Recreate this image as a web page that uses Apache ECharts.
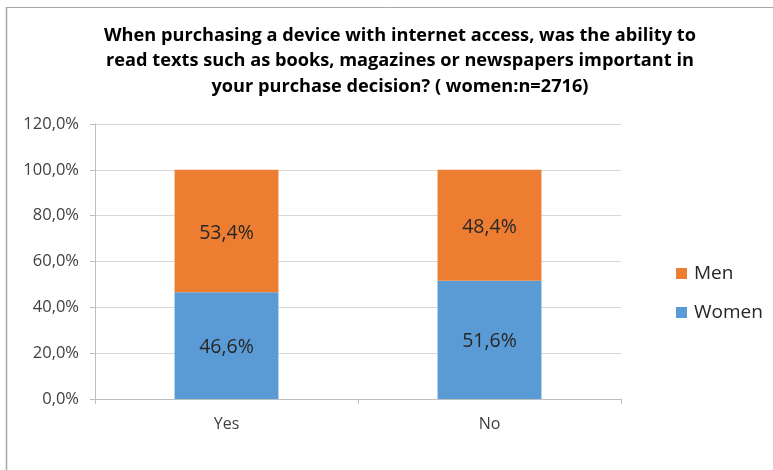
<!DOCTYPE html>
<html>
<head>
<meta charset="utf-8">
<script src="https://cdn.jsdelivr.net/npm/echarts@6/dist/echarts.min.js"></script>
<style>
  html, body { margin: 0; padding: 0; background: #fff; }
  #chart { width: 773px; height: 470px; }
</style>
</head>
<body>
<div id="chart"></div>
<script>
// Share of respondents, by answer and gender (percent)
const categories = ['Yes', 'No'];
const women = [46.6, 51.6];
const men = [53.4, 48.4];
const yTicks = [0, 20, 40, 60, 80, 100, 120];

const titleLines = [
  'When purchasing a device with internet access, was the ability to',
  'read texts such as books, magazines or newspapers important in',
  'your purchase decision? ( women:n=2716)'
];

const fmt = v => v.toFixed(1).replace('.', ',') + '%';
const FONT = '"Open Sans", "DejaVu Sans", sans-serif';

const chart = echarts.init(document.getElementById('chart'), null, { renderer: 'canvas' });

const labelStyle = {
  show: true,
  position: 'inside',
  offset: [0, 2],
  color: '#262626',
  fontFamily: FONT,
  fontSize: 19.5,
  formatter: p => fmt(p.value)
};

chart.setOption({
  animation: false,
  backgroundColor: '#ffffff',
  title: {
    text: titleLines.join('\n'),
    left: 395,
    textAlign: 'center',
    top: 18,
    textStyle: {
      fontFamily: FONT,
      fontWeight: 'bold',
      fontSize: 18.2,
      lineHeight: 25.5,
      color: '#000000'
    }
  },
  legend: {
    data: ['Men', 'Women'],
    orient: 'vertical',
    left: 676,
    top: 264,
    padding: 0,
    itemWidth: 11,
    itemHeight: 11,
    itemGap: 20,
    icon: 'rect',
    textStyle: { fontFamily: FONT, fontSize: 19, color: '#262626', padding: [0, 0, 0, 2] }
  },
  grid: { left: 95, right: 152, top: 124, bottom: 71 },
  xAxis: {
    type: 'category',
    data: categories,
    axisLine: { lineStyle: { color: '#bfbfbf', width: 1 } },
    axisTick: { show: true, alignWithLabel: false, length: 5, lineStyle: { color: '#bfbfbf' } },
    axisLabel: { fontFamily: FONT, fontSize: 16, color: '#404040', margin: 17 }
  },
  yAxis: {
    type: 'value',
    min: yTicks[0],
    max: yTicks[yTicks.length - 1],
    interval: yTicks[1] - yTicks[0],
    axisLine: { show: true, lineStyle: { color: '#bfbfbf' } },
    axisTick: { show: true, length: 5, lineStyle: { color: '#bfbfbf' } },
    splitLine: { lineStyle: { color: '#d9d9d9', width: 1 } },
    axisLabel: {
      fontFamily: FONT, fontSize: 16.5, color: '#404040', margin: 16,
      formatter: v => fmt(v)
    }
  },
  series: [
    {
      name: 'Women',
      type: 'bar',
      stack: 'total',
      data: women,
      barWidth: '39.5%',
      itemStyle: { color: '#5b9bd5' },
      label: labelStyle
    },
    {
      name: 'Men',
      type: 'bar',
      stack: 'total',
      data: men,
      barWidth: '39.5%',
      itemStyle: { color: '#ed7d31' },
      label: labelStyle
    }
  ],
  graphic: [
    { type: 'line', shape: { x1: 6, y1: 7.5, x2: 773, y2: 7.5 }, style: { stroke: '#a6a6a6', lineWidth: 1 } },
    { type: 'line', shape: { x1: 6.5, y1: 7, x2: 6.5, y2: 470 }, style: { stroke: '#a6a6a6', lineWidth: 1.5 } }
  ]
});
</script>
</body>
</html>
